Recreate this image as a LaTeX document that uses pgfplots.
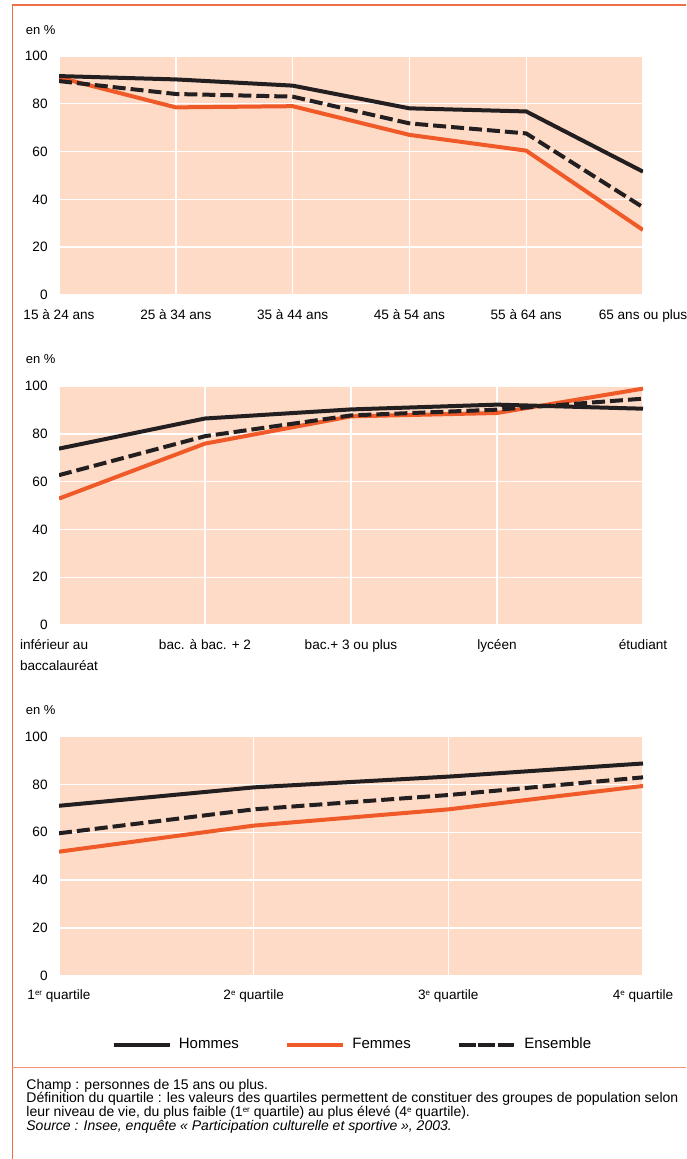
\documentclass[border=0pt]{standalone}
\usepackage{pgfplots}
\pgfplotsset{compat=1.18}
\usepackage{fontspec}
\setmainfont{Liberation Sans}
\definecolor{peach}{RGB}{253,219,199}
\definecolor{inseeorange}{RGB}{240,90,40}
\definecolor{framecol}{RGB}{240,110,70}
\definecolor{sepcol}{RGB}{245,145,115}
\definecolor{darkline}{RGB}{35,31,32}
\newcommand{\sups}[1]{\raisebox{2.2pt}{\fontsize{4}{4}\selectfont #1}}

\pgfplotsset{
  mystyle/.style={
    scale only axis, width=292pt, height=119.5pt,
    anchor=south west,
    ymin=0, ymax=100, ytick={0,20,...,100},
    axis line style={draw=none},
    major tick length=0pt,
    grid=major,
    grid style={white, line width=0.7pt},
    axis background/.style={fill=peach},
    tick label style={font=\fontsize{6.8}{8}\selectfont, text=black},
    /pgf/number format/assume math mode=true,
    yticklabel style={anchor=east, inner sep=0pt, xshift=-5.5pt},
    xticklabel style={anchor=north, inner sep=0pt, yshift=-7pt, align=left},
  },
  hom/.style={darkline, line width=2pt},
  fem/.style={inseeorange, line width=2pt},
  ens/.style={darkline, line width=2pt, dash pattern=on 6.5pt off 2.5pt},
}

\begin{document}
\begin{tikzpicture}
\useasboundingbox (0pt,0pt) rectangle (343pt,-579.5pt);
% frame
\draw[framecol, line width=0.7pt] (6.1pt,-2.5pt) -- (343pt,-2.5pt);
\draw[framecol, line width=0.7pt] (6.1pt,-2.5pt) -- (6.1pt,-579.5pt);
\draw[sepcol, line width=0.7pt] (6.1pt,-533.85pt) -- (343pt,-533.85pt);

% ---------- top chart: age
\begin{axis}[mystyle, at={(29.5pt,-147.5pt)},
  xmin=0, xmax=5, xtick={0,...,5},
  xticklabels={15 à 24 ans,25 à 34 ans,35 à 44 ans,45 à 54 ans,55 à 64 ans,65 ans ou plus}]
\addplot[fem] coordinates {(0,91) (1,78.5) (2,79) (3,67) (4,60.4) (5,27.2)};
\addplot[hom] coordinates {(0,91.6) (1,90.2) (2,87.6) (3,78.1) (4,76.8) (5,51.6)};
\addplot[ens] coordinates {(0,89.5) (1,84.1) (2,83) (3,71.8) (4,67.6) (5,36.7)};
\end{axis}
\node[anchor=west, inner sep=0pt, font=\fontsize{6.5}{8}\selectfont] at (12.75pt,-15pt) {en \%};

% ---------- middle chart: diplome
\begin{axis}[mystyle, at={(29.5pt,-312.5pt)},
  xmin=0, xmax=4, xtick={0,...,4},
  xticklabels={{inférieur au\\[2.6pt]baccalauréat},bac. à bac. + 2,bac.+ 3 ou plus,lycéen,étudiant}]
\addplot[fem] coordinates {(0,52.9) (1,75.9) (2,87.3) (3,88.7) (4,98.9)};
\addplot[hom] coordinates {(0,73.8) (1,86.4) (2,90.2) (3,92.2) (4,90.5)};
\addplot[ens] coordinates {(0,62.7) (1,79) (2,87.7) (3,90.1) (4,94.7)};
\end{axis}
\node[anchor=west, inner sep=0pt, font=\fontsize{6.5}{8}\selectfont] at (12.75pt,-179.7pt) {en \%};

% ---------- bottom chart: quartile
\begin{axis}[mystyle, at={(29.5pt,-487.85pt)},
  xmin=0, xmax=3, xtick={0,...,3},
  xticklabels={1\sups{er} quartile,2\sups{e} quartile,3\sups{e} quartile,4\sups{e} quartile},
  legend columns=3,
  legend image code/.code={\draw[#1] (0pt,0pt) -- (28pt,0pt);},
  legend style={at={(0.5003,-0.29)}, anchor=center, draw=none, fill=none,
    font=\fontsize{7.5}{9}\selectfont,
    nodes={inner sep=0pt, anchor=west},
    /tikz/every odd column/.style={column sep=3.5pt},
    /tikz/every even column/.style={column sep=23pt}},
  ]
\addplot[fem, forget plot] coordinates {(0,51.9) (1,62.8) (2,69.6) (3,79.4)};
\addplot[hom, forget plot] coordinates {(0,71.1) (1,78.8) (2,83.3) (3,88.8)};
\addplot[ens, forget plot] coordinates {(0,59.6) (1,69.6) (2,75.6) (3,83)};
\addlegendimage{darkline, line width=2.3pt}
\addlegendentry{Hommes}
\addlegendimage{inseeorange, line width=2.3pt}
\addlegendentry{Femmes}
\addlegendimage{darkline, line width=2.3pt, dash pattern=on 8.2pt off 1.4pt}
\addlegendentry{Ensemble}
\end{axis}
\node[anchor=west, inner sep=0pt, font=\fontsize{6.5}{8}\selectfont] at (12.75pt,-355pt) {en \%};

% ---------- footer
\begin{scope}[every node/.style={anchor=base west, inner sep=0pt, font=\fontsize{7}{7}\selectfont}]
\node at (13pt,-544.6pt) {Champ : personnes de 15 ans ou plus.};
\node at (13pt,-551.45pt) {Définition du quartile : les valeurs des quartiles permettent de constituer des groupes de population selon};
\node at (13pt,-558.3pt) {leur niveau de vie, du plus faible (1\sups{er} quartile) au plus élevé (4\sups{e} quartile).};
\node at (13pt,-565.15pt) {\itshape Source : Insee, enquête « Participation culturelle et sportive », 2003.};
\end{scope}
\end{tikzpicture}
\end{document}
